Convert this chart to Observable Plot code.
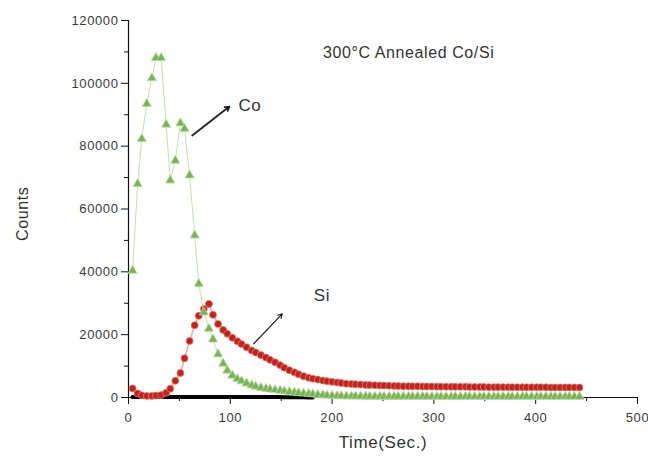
<!DOCTYPE html>
<html>
<head>
<meta charset="utf-8">
<script src="https://cdn.jsdelivr.net/npm/d3@7"></script>
<script src="https://cdn.jsdelivr.net/npm/@observablehq/plot@0.6"></script>
<style>
  html, body { margin: 0; padding: 0; background: #fff; }
</style>
</head>
<body>
<div id="chart"></div>
<script>
// ---- data ----
const times = [4,9,13,18,23,27,32,37,41,46,
  51,55,60,65,69,74,79,83,88,93,
  97,102,107,111,116,121,125,130,135,139,
  144,149,153,158,163,167,172,177,181,186,
  191,195,200,205,209,214,219,223,228,233,
  237,242,247,251,256,261,265,270,275,279,
  284,289,293,298,303,307,312,317,321,326,
  331,335,340,345,349,354,359,363,368,373,
  377,382,387,391,396,401,405,410,415,419,
  424,429,433,438,443];

const coCounts = [40400,68000,82300,93500,101700,108100,108100,86900,69100,75400,
  87300,85500,70700,51600,36200,27100,21900,18500,13800,10800,
  8600,7000,5900,5200,4500,3900,3500,3100,2800,2600,
  2400,2200,2000,1800,1600,1450,1300,1200,1050,900,
  750,650,550,500,450,400,380,360,340,320,
  310,300,300,290,290,280,280,280,270,270,
  270,270,260,260,260,260,260,260,250,250,
  250,250,250,250,250,250,250,250,250,250,
  250,250,250,250,250,250,250,250,250,250,
  250,250,250,250,250];

const siCounts = [2900,1300,700,500,500,600,800,1500,2800,5300,
  7800,12500,18000,23000,26000,28200,29800,26300,23400,21500,
  20300,19000,17900,17000,16000,15000,14300,13500,12700,12000,
  11200,10300,9500,8700,8000,7400,6800,6300,6000,5700,
  5400,5200,5000,4800,4600,4400,4300,4200,4100,4000,
  3950,3900,3850,3800,3750,3700,3650,3600,3600,3550,
  3550,3500,3500,3500,3450,3450,3450,3400,3400,3400,
  3400,3350,3350,3350,3350,3300,3300,3300,3300,3300,
  3300,3250,3250,3250,3250,3250,3250,3250,3200,3200,
  3200,3200,3200,3200,3200];

// third (black) trace lying on the baseline
const blackTimes = [4,9,13,18,23,27,32,37,41,46,51,55,60,65,69,74,79,83,88,93,97,102,107,111,116,121,125,130,135,139,144,149,153,158,163,167,172,177,181];
const blackCounts = [150,150,150,150,150,150,150,150,150,150,150,150,150,150,150,150,150,150,150,150,150,150,150,150,150,150,150,150,150,150,150,120,100,80,60,50,40,30,20];

const xTicks = [0,100,200,300,400,500];
const xMinor = [50,150,250,350,450];
const yTicks = [0,20000,40000,60000,80000,100000,120000];
const yMinor = [10000,30000,50000,70000,90000,110000];

const labels = ["300°C Annealed Co/Si", "Co", "Si"];
const labelX = [191, 108, 182];
const labelY = [109800, 93000, 32500];
const labelSize = [16, 17, 17];

const arrowX1 = [62.6, 123];
const arrowY1 = [83400, 17100];
const arrowX2 = [99.1, 151];
const arrowY2 = [92600, 26600];

// ---- build tables ----
const co = times.map((t, i) => ({t, v: coCounts[i]}));
const si = times.map((t, i) => ({t, v: siCounts[i]}));
const blk = blackTimes.map((t, i) => ({t, v: blackCounts[i]}));
const notes = labels.map((s, i) => ({s, x: labelX[i], y: labelY[i], size: labelSize[i]}));
const arrows = arrowX1.map((x1, i) => ({x1, y1: arrowY1[i], x2: arrowX2[i], y2: arrowY2[i], w: i === 0 ? 1.8 : 1.2}));

const fmt = d => String(d);

const chart = Plot.plot({
  width: 648,
  height: 456,
  marginLeft: 128,
  marginRight: 11,
  marginTop: 20,
  marginBottom: 59,
  x: {domain: [0, 500]},
  y: {domain: [0, 120000]},
  style: {fontFamily: "'Liberation Sans', Arial, sans-serif", fontSize: "13px", color: "#222", background: "#fff", letterSpacing: "0.6px"},
  marks: [
    Plot.axisX({ticks: xTicks, tickSize: 7, tickPadding: 8, tickFormat: fmt, label: null, fill: "#3a3a3a", stroke: "#111"}),
    Plot.axisX({ticks: xMinor, tickSize: 4, tickFormat: () => "", label: null, stroke: "#111"}),
    Plot.axisY({ticks: yTicks, tickSize: 7, tickPadding: 3, tickFormat: fmt, label: null, fill: "#3a3a3a", stroke: "#111"}),
    Plot.axisY({ticks: yMinor, tickSize: 4, tickFormat: () => "", label: null, stroke: "#111"}),
    Plot.ruleY([0], {stroke: "#111", strokeWidth: 1.2}),
    Plot.ruleX([0], {stroke: "#111", strokeWidth: 1.2}),
    Plot.line(blk, {x: "t", y: "v", stroke: "#000", strokeWidth: 4}),
    Plot.line(si, {x: "t", y: "v", stroke: "#f3a7a0", strokeWidth: 1.5}),
    Plot.dot(si, {x: "t", y: "v", symbol: "circle", r: 3.5, fill: "#c0221d", stroke: "#e8776c", strokeWidth: 0.8}),
    Plot.line(co, {x: "t", y: "v", stroke: "#c2e2aa", strokeWidth: 1}),
    Plot.dot(co, {x: "t", y: "v", symbol: "triangle", r: 3.4, fill: "#78b356", stroke: "#b9dd9f", strokeWidth: 0.8}),
    Plot.arrow(arrows, {x1: "x1", y1: "y1", x2: "x2", y2: "y2", stroke: "#222", strokeWidth: "w", headLength: 7}),
    Plot.text(notes, {x: "x", y: "y", text: "s", fontSize: "size", textAnchor: "start", fill: "#333"}),
    Plot.text(["Time(Sec.)"], {frameAnchor: "bottom", dy: 50, fontSize: 17, fill: "#333"}),
    Plot.text(["Counts"], {frameAnchor: "left", dx: -106, dy: 32, rotate: -90, fontSize: 16, fill: "#333"})
  ]
});
document.getElementById("chart").appendChild(chart);
</script>
</body>
</html>
